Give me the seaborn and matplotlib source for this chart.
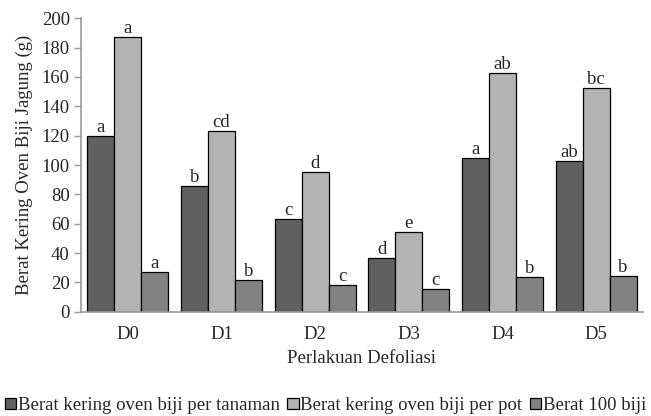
import matplotlib
matplotlib.use("Agg")
import matplotlib.pyplot as plt
import seaborn as sns
import pandas as pd

perlakuan = ["D0", "D1", "D2", "D3", "D4", "D5"]
seri = ["Berat kering oven biji per tanaman",
        "Berat kering oven biji per pot",
        "Berat 100 biji"]
per_tanaman = [119.5, 85.5, 63.5, 36.5, 105.0, 103.0]
per_pot = [187.0, 123.0, 95.5, 54.5, 163.0, 152.5]
berat_100 = [27.3, 21.6, 18.0, 15.5, 23.7, 24.1]

notasi_tanaman = ["a", "b", "c", "d", "a", "ab"]
notasi_pot = ["a", "cd", "d", "e", "ab", "bc"]
notasi_100 = ["a", "b", "c", "c", "b", "b"]

warna = ["#606060", "#b3b3b3", "#828282"]

df = pd.DataFrame({
    "Perlakuan": perlakuan * 3,
    "Seri": [seri[0]] * 6 + [seri[1]] * 6 + [seri[2]] * 6,
    "Nilai": per_tanaman + per_pot + berat_100,
})

sns.set_style("white")
plt.rcParams["font.family"] = ["Liberation Serif", "DejaVu Serif"]
fs = 13.5

fig = plt.figure(figsize=(6.51, 4.16), dpi=100)
ax = fig.add_axes([0.1244, 0.2507, 0.8633, 0.7053])

sns.barplot(data=df, x="Perlakuan", y="Nilai", hue="Seri", hue_order=seri,
            palette=warna, edgecolor="black", linewidth=0.9,
            width=0.865, gap=0, ax=ax, legend=True)

for cont, lab in zip(ax.containers, [notasi_tanaman, notasi_pot, notasi_100]):
    ax.bar_label(cont, labels=lab, padding=0, fontsize=fs)

ax.set_ylim(0, 200)
ax.set_yticks(range(0, 201, 20))
ax.tick_params(axis="y", labelsize=fs, length=5, width=1, color="#999999",
               direction="out", left=True, pad=3)
ax.tick_params(axis="x", labelsize=fs, length=0, pad=10)
for s in ["top", "right"]:
    ax.spines[s].set_visible(False)
for s in ["left", "bottom"]:
    ax.spines[s].set_color("#999999")
    ax.spines[s].set_linewidth(1.2)

ax.set_xlabel("Perlakuan Defoliasi", fontsize=fs, labelpad=5)
ax.set_ylabel("Berat Kering Oven Biji Jagung (g)", fontsize=fs, labelpad=6)

handles, labels = ax.get_legend_handles_labels()
ax.legend(handles, labels, loc="lower center", bbox_to_anchor=(0.5, 0.0),
          bbox_transform=fig.transFigure, ncol=3, frameon=False, fontsize=fs,
          handlelength=0.6, handleheight=0.6, handletextpad=0.1,
          columnspacing=0.4, borderaxespad=0.0, borderpad=0.1)

fig.savefig("out.png", dpi=100)
